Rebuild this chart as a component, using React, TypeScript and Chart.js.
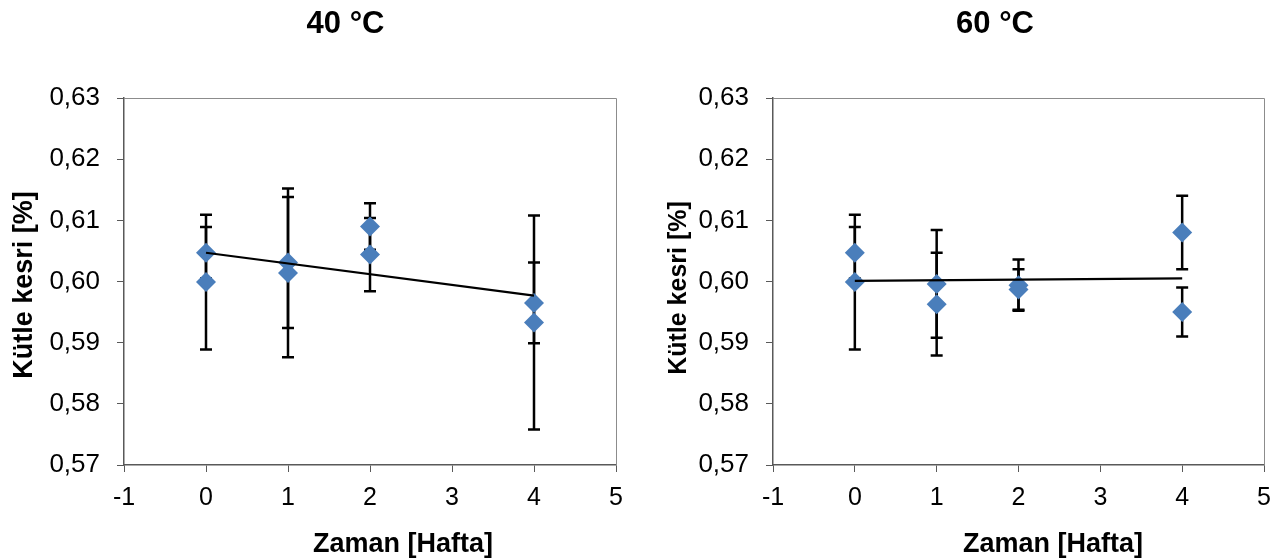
import React, { useEffect, useRef } from 'react';
import { Chart, registerables } from 'chart.js';

Chart.register(...registerables);

// ---------- data ----------
const weeks = [0, 0, 1, 1, 2, 2, 4, 4];
const mass40 = [0.6047, 0.5999, 0.6031, 0.6014, 0.609, 0.6044, 0.5965, 0.5933];
const err40 = [0.0042, 0.011, 0.0107, 0.0138, 0.0038, 0.006, 0.0066, 0.0175];
const mass60 = [0.6047, 0.5999, 0.5996, 0.5963, 0.5994, 0.5987, 0.608, 0.595];
const err60 = [0.0042, 0.011, 0.0088, 0.0084, 0.0042, 0.0033, 0.006, 0.004];
const trendWeeks = [0, 4];
const trend40 = [0.6047, 0.5977];
const trend60 = [0.6001, 0.6005];
const yTickLabels = ['0,57', '0,58', '0,59', '0,60', '0,61', '0,62', '0,63'];
const xTickLabels = ['-1', '0', '1', '2', '3', '4', '5'];
const chartTitles = ['40 °C', '60 °C'];
const yAxisTitle = 'Kütle kesri [%]';
const xAxisTitle = 'Zaman [Hafta]';

const FONT = '"Liberation Sans", Arial, Helvetica, sans-serif';
const MARKER = '#4A7EBB';

type Panel = {
  left: number;
  width: number;
  yAxisWidth: number;
  padRight: number;
  title: string;
  titleX: number;
  xTitleX: number;
  yTitleY: number;
  yTitleX: number;
  yTitleSize: number;
  values: number[];
  errors: number[];
  trend: number[];
};

const panels: Panel[] = [
  {
    left: 0, width: 640, yAxisWidth: 124, padRight: 24,
    title: chartTitles[0], titleX: 345.5, xTitleX: 403, yTitleY: 285, yTitleX: 31.5, yTitleSize: 27,
    values: mass40, errors: err40, trend: trend40,
  },
  {
    left: 640, width: 645, yAxisWidth: 133, padRight: 21,
    title: chartTitles[1], titleX: 355, xTitleX: 413, yTitleY: 288, yTitleX: 45.5, yTitleSize: 25,
    values: mass60, errors: err60, trend: trend60,
  },
];

const HEIGHT = 559;
const PLOT_TOP = 98;
const X_AXIS_H = 94;

function PanelChart({ p }: { p: Panel }) {
  const ref = useRef<HTMLCanvasElement | null>(null);
  useEffect(() => {
    if (!ref.current) return;
    const decor = {
      id: 'decor' + p.left,
      beforeDatasetsDraw(chart: any) {
        const { ctx, chartArea, scales } = chart;
        const xs = scales.x, ys = scales.y;
        ctx.save();
        // frame
        ctx.strokeStyle = '#8c8c8c';
        ctx.lineWidth = 1;
        ctx.beginPath();
        ctx.moveTo(chartArea.left, chartArea.top + 0.5);
        ctx.lineTo(chartArea.right + 0.5, chartArea.top + 0.5);
        ctx.lineTo(chartArea.right + 0.5, chartArea.bottom);
        ctx.stroke();
        // error bars
        ctx.strokeStyle = '#000';
        ctx.lineWidth = 2.5;
        for (let i = 0; i < weeks.length; i++) {
          const x = xs.getPixelForValue(weeks[i]);
          const yt = ys.getPixelForValue(p.values[i] + p.errors[i]);
          const yb = ys.getPixelForValue(p.values[i] - p.errors[i]);
          ctx.beginPath();
          ctx.moveTo(x, yt);
          ctx.lineTo(x, yb);
          ctx.moveTo(x - 6, yt);
          ctx.lineTo(x + 6, yt);
          ctx.moveTo(x - 6, yb);
          ctx.lineTo(x + 6, yb);
          ctx.stroke();
        }
        ctx.restore();
      },
      afterDraw(chart: any) {
        const { ctx } = chart;
        ctx.save();
        ctx.fillStyle = '#000';
        ctx.textAlign = 'center';
        ctx.textBaseline = 'alphabetic';
        ctx.font = `bold 31px ${FONT}`;
        ctx.fillText(p.title, p.titleX, 33);
        ctx.font = `bold 27px ${FONT}`;
        ctx.fillText(xAxisTitle, p.xTitleX, 551.5);
        ctx.translate(p.yTitleX, p.yTitleY);
        ctx.rotate(-Math.PI / 2);
        ctx.font = `bold ${p.yTitleSize}px ${FONT}`;
        ctx.fillText(yAxisTitle, 0, 0);
        ctx.restore();
      },
    };
    const chart = new Chart(ref.current, {
      type: 'scatter',
      data: {
        datasets: [
          {
            type: 'line',
            data: trendWeeks.map((w, i) => ({ x: w, y: p.trend[i] })),
            borderColor: '#000',
            borderWidth: 2.2,
            pointRadius: 0,
            showLine: true,
            fill: false,
          } as any,
          {
            data: weeks.map((w, i) => ({ x: w, y: p.values[i] })),
            pointStyle: 'rectRot',
            pointRadius: 10,
            backgroundColor: MARKER,
            borderColor: MARKER,
            borderWidth: 0,
          },
        ],
      },
      options: {
        responsive: false,
        animation: false,
        events: [],
        layout: { padding: { top: PLOT_TOP, right: p.padRight, bottom: 0, left: 0 } },
        plugins: {
          legend: { display: false },
          tooltip: { enabled: false },
          title: { display: false },
        },
        scales: {
          x: {
            type: 'linear',
            min: -1,
            max: 5,
            ticks: {
              stepSize: 1,
              padding: 11,
              color: '#000',
              font: { family: FONT, size: 25 },
              callback: (_v: any, i: number) => xTickLabels[i],
            },
            grid: { drawOnChartArea: false, drawTicks: true, tickLength: 7, color: '#595959', lineWidth: 1 },
            border: { color: '#595959', width: 1.5 },
            afterFit: (s: any) => { s.height = X_AXIS_H; },
          },
          y: {
            type: 'linear',
            min: 0.57,
            max: 0.63,
            ticks: {
              stepSize: 0.01,
              padding: 17,
              color: '#000',
              font: { family: FONT, size: 26 },
              callback: (_v: any, i: number) => yTickLabels[i],
            },
            grid: { drawOnChartArea: false, drawTicks: true, tickLength: 7, color: '#595959', lineWidth: 1 },
            border: { color: '#595959', width: 1.5 },
            afterFit: (s: any) => { s.width = p.yAxisWidth; },
          },
        },
      },
      plugins: [decor],
    });
    return () => chart.destroy();
  }, []);
  return (
    <canvas
      ref={ref}
      width={p.width}
      height={HEIGHT}
      style={{ position: 'absolute', left: p.left, top: 0, width: p.width, height: HEIGHT, display: 'block' }}
    />
  );
}

export default function App() {
  return (
    <div style={{ position: 'absolute', left: 0, top: 0, width: 1285, height: HEIGHT, background: '#fff', overflow: 'hidden' }}>
      {panels.map((p) => (
        <PanelChart key={p.left} p={p} />
      ))}
    </div>
  );
}
